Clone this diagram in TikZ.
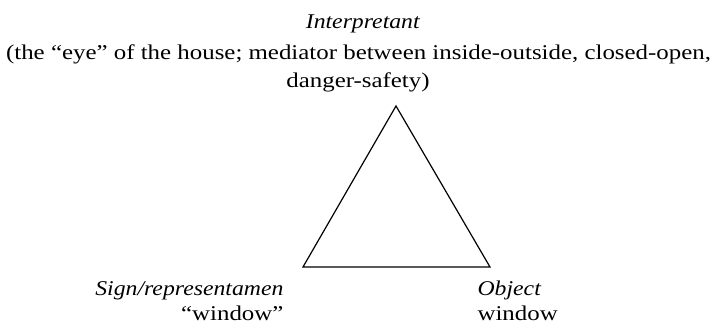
\documentclass[tikz,border=0pt]{standalone}
\usepackage{fontspec}
\setmainfont{Liberation Serif}[FakeStretch=1.185,
	ItalicFeatures={FakeStretch=1.13}]

\begin{document}
\begin{tikzpicture}[x=1pt,y=1pt,line width=1.2pt]
	\tikzset{lbl/.style={inner sep=0pt,font=\fontsize{21}{27}\selectfont}}
	\useasboundingbox (0,0) rectangle (716,328);
	% triangle corners
	\coordinate (apex) at (396,222);
	\coordinate (sign) at (303,61);
	\coordinate (obj) at (490,61);
	\draw[line join=miter] (apex)--(sign)--(obj)--cycle;
	% labels
	\node[lbl,anchor=base] (interp) at (363,299) {\textit{Interpretant}};
	\node[lbl,anchor=base] (eye) at (358.5,268)
		{(the “eye” of the house; mediator between inside-outside, closed-open,};
	\node[lbl,anchor=base] (eyeb) at (358,240) {danger-safety)};
	\node[lbl,anchor=base east] (signlbl) at (284,32) {\textit{Sign/representamen}};
	\node[lbl,anchor=base east] (signwin) at (284,7) {“window”};
	\node[lbl,anchor=base west] (objlbl) at (477,32) {\textit{Object}};
	\node[lbl,anchor=base west] (objwin) at (477,7) {window};
\end{tikzpicture}
\end{document}
